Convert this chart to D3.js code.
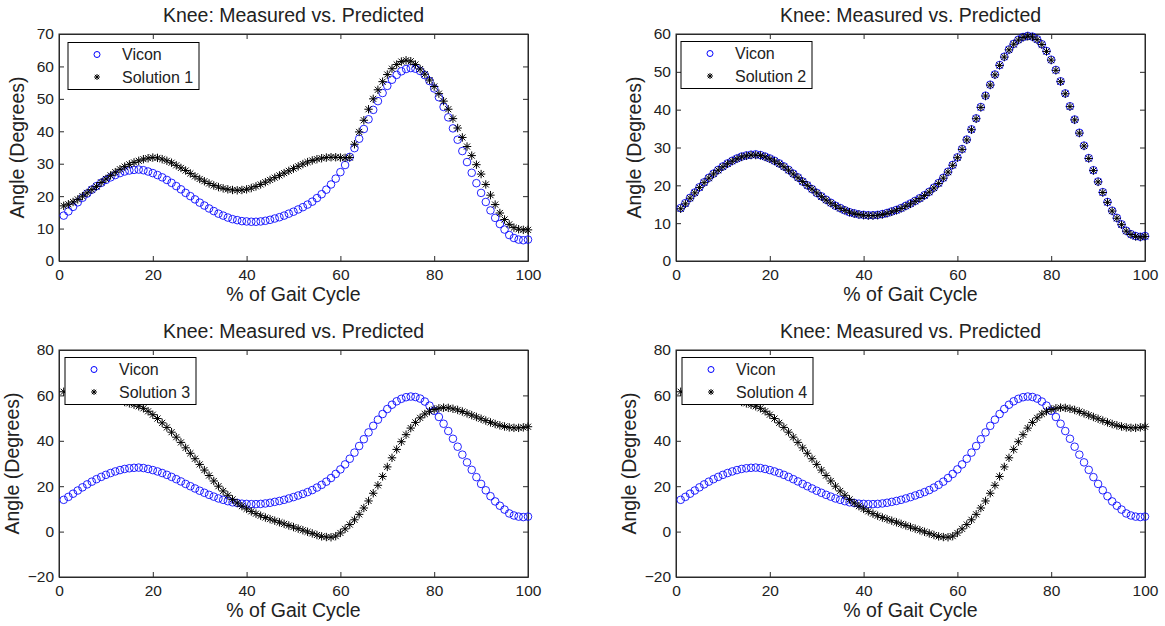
<!DOCTYPE html>
<html><head><meta charset="utf-8">
<script src="https://cdn.jsdelivr.net/npm/d3@7"></script>
<style>
body{margin:0;background:#fff}
svg text{font-family:"Liberation Sans",Arial,sans-serif;fill:#222}
</style>
</head><body>
<svg id="chart" width="1165" height="626"></svg>
<script>
// ---- data ----
const gaitPct = d3.range(1, 101);
const xTicks = [0, 20, 40, 60, 80, 100];
const titleText = "Knee: Measured vs. Predicted";
const xLabel = "% of Gait Cycle";
const yLabel = "Angle (Degrees)";
const viconLabel = "Vicon";

const vicon = [14.0,15.3,16.7,18.1,19.5,20.8,22.0,23.1,24.1,25.0,
25.8,26.5,27.1,27.6,27.9,28.1,28.2,28.0,27.6,27.1,
26.5,25.8,25.0,24.1,23.1,22.1,21.0,20.0,19.0,18.0,
17.1,16.2,15.4,14.6,14.0,13.4,12.9,12.6,12.3,12.2,
12.1,12.1,12.2,12.4,12.7,13.1,13.5,14.0,14.6,15.2,
15.9,16.6,17.4,18.3,19.4,20.6,22.0,23.6,25.4,27.4,
29.6,32.1,34.8,37.7,40.7,43.7,46.6,49.3,51.8,54.0,
55.9,57.4,58.5,59.2,59.5,59.3,58.6,57.3,55.5,53.2,
50.5,47.5,44.3,40.9,37.4,33.9,30.5,27.2,24.0,21.0,
18.2,15.6,13.3,11.4,9.7,8.0,7.1,6.6,6.4,6.6];

const solution1 = [17.0,17.5,18.2,19.0,20.0,21.0,22.0,23.0,24.2,25.3,
26.4,27.4,28.3,29.1,29.8,30.4,30.9,31.4,31.7,31.9,
31.8,31.4,30.9,30.3,29.5,28.7,27.9,27.0,26.1,25.3,
24.6,23.9,23.3,22.8,22.4,22.1,21.9,21.8,21.9,22.1,
22.5,23.0,23.6,24.3,25.0,25.7,26.4,27.1,27.8,28.5,
29.2,29.9,30.5,31.0,31.4,31.7,31.9,32.0,32.0,31.9,
31.8,31.9,36.0,39.8,43.4,46.8,50.0,52.8,55.3,57.5,
59.3,60.6,61.5,61.9,61.6,60.6,59.2,57.6,55.8,53.8,
51.6,49.3,46.8,43.9,41.0,38.1,35.3,32.5,29.7,26.8,
23.6,20.3,17.4,14.8,12.8,11.3,10.3,9.8,9.6,9.6];

const solution2 = [13.8,15.1,16.6,18.0,19.4,20.7,21.9,23.0,24.0,24.9,
25.7,26.4,27.0,27.5,27.8,28.0,28.0,27.9,27.5,27.0,
26.4,25.7,24.9,24.0,23.0,22.0,21.0,20.0,19.0,18.0,
17.0,16.1,15.3,14.6,13.9,13.4,12.9,12.5,12.3,12.1,
12.0,12.0,12.1,12.3,12.6,13.0,13.4,13.9,14.5,15.1,
15.8,16.5,17.3,18.2,19.3,20.5,21.9,23.5,25.3,27.3,
29.5,32.0,34.7,37.6,40.6,43.6,46.5,49.2,51.7,53.9,
55.8,57.3,58.4,59.1,59.4,59.2,58.5,57.2,55.4,53.1,
50.4,47.4,44.2,40.8,37.3,33.8,30.4,27.1,23.9,20.9,
18.1,15.5,13.2,11.3,9.6,7.9,7.0,6.5,6.3,6.5];

const solution3 = [61.6,61.5,61.4,61.2,61.0,60.7,60.4,60.0,59.6,59.2,
58.7,58.2,57.7,57.1,56.5,55.9,55.2,54.3,53.0,51.5,
49.8,47.9,45.9,43.8,41.6,39.3,36.9,34.5,32.1,29.6,
27.1,24.7,22.3,20.0,17.9,16.0,14.2,12.6,11.2,10.0,
8.9,7.9,7.0,6.2,5.5,4.8,4.1,3.4,2.7,2.0,
1.3,0.6,-0.1,-0.8,-1.5,-2.1,-2.4,-2.5,-2.0,-0.6,
1.2,3.1,5.2,7.6,10.4,13.5,16.9,20.4,24.3,28.5,
32.5,36.2,39.6,42.7,45.6,48.1,50.1,51.8,53.0,53.8,
54.3,54.6,54.5,54.1,53.6,52.9,52.1,51.3,50.5,49.7,
48.9,48.1,47.4,46.8,46.3,45.9,45.7,45.7,45.9,46.2];

const solution4 = [61.6,61.5,61.4,61.2,61.0,60.7,60.4,60.0,59.6,59.2,
58.7,58.2,57.7,57.1,56.5,55.9,55.2,54.3,53.0,51.5,
49.8,47.9,45.9,43.8,41.6,39.3,36.9,34.5,32.1,29.6,
27.1,24.7,22.3,20.0,17.9,16.0,14.2,12.6,11.2,10.0,
8.9,7.9,7.0,6.2,5.5,4.8,4.1,3.4,2.7,2.0,
1.3,0.6,-0.1,-0.8,-1.5,-2.1,-2.4,-2.5,-2.0,-0.6,
1.2,3.1,5.2,7.6,10.4,13.5,16.9,20.4,24.3,28.5,
32.5,36.2,39.6,42.7,45.6,48.1,50.1,51.8,53.0,53.8,
54.3,54.6,54.5,54.1,53.6,52.9,52.1,51.3,50.5,49.7,
48.9,48.1,47.4,46.8,46.3,45.9,45.7,45.7,45.9,46.2];

const solutionNames = ["Solution 1", "Solution 2", "Solution 3", "Solution 4"];
const yDomains = [[0, 70], [0, 60], [-20, 80], [-20, 80]];
const yTickSets = [[0,10,20,30,40,50,60,70],[0,10,20,30,40,50,60],[-20,0,20,40,60,80],[-20,0,20,40,60,80]];

// ---- layout ----
const layouts = [
  {left: 59, top: 34, legDx: 9, legDy: 8.5, yLabX: 24},
  {left: 676, top: 34, legDx: 5, legDy: 7.5, yLabX: 641},
  {left: 59, top: 350, legDx: 6, legDy: 7.5, yLabX: 19},
  {left: 676, top: 350, legDx: 6, legDy: 7.5, yLabX: 636}
];
const W = 469, H = 227;
const solutions = [solution1, solution2, solution3, solution4];

const svg = d3.select("#chart");
const axisColor = "#2a2a2a";
const font = '"Liberation Sans",Arial,sans-serif';

const starPath = (s) => {
  const d = s * 0.72;
  return `M${-s},0L${s},0M0,${-s}L0,${s}M${-d},${-d}L${d},${d}M${-d},${d}L${d},${-d}`;
};

layouts.forEach((L, i) => {
  const g = svg.append("g").attr("transform", `translate(${L.left},${L.top})`);
  const x = d3.scaleLinear().domain([0, 100]).range([0, W]);
  const y = d3.scaleLinear().domain(yDomains[i]).range([H, 0]);

  g.append("rect").attr("width", W).attr("height", H).attr("fill", "#fff");

  const ax = [
    g.append("g").attr("transform", `translate(0,${H})`).call(d3.axisBottom(x).tickValues(xTicks).tickSizeInner(-5).tickSizeOuter(0).tickPadding(8)),
    g.append("g").call(d3.axisTop(x).tickValues(xTicks).tickSizeInner(-5).tickSizeOuter(0).tickFormat("")),
    g.append("g").call(d3.axisLeft(y).tickValues(yTickSets[i]).tickSizeInner(-5).tickSizeOuter(0).tickPadding(5)),
    g.append("g").attr("transform", `translate(${W},0)`).call(d3.axisRight(y).tickValues(yTickSets[i]).tickSizeInner(-5).tickSizeOuter(0).tickFormat(""))
  ];
  ax.forEach(a => {
    a.select(".domain").attr("stroke", axisColor);
    a.selectAll(".tick line").attr("stroke", axisColor);
    a.selectAll(".tick text").attr("font-size", "15.5px").attr("fill", "#222").attr("font-family", font);
  });
  g.append("rect").attr("width", W).attr("height", H).attr("fill", "none").attr("stroke", axisColor);

  g.append("g").selectAll("circle").data(vicon).join("circle")
    .attr("cx", (d, j) => x(gaitPct[j])).attr("cy", d => y(d)).attr("r", 3.8)
    .attr("fill", "none").attr("stroke", "#0000ff").attr("stroke-width", 1).attr("stroke-opacity", 0.85);
  g.append("g").selectAll("path").data(solutions[i]).join("path")
    .attr("transform", (d, j) => `translate(${x(gaitPct[j])},${y(d)})`)
    .attr("d", starPath(4.2)).attr("stroke", "#000").attr("stroke-width", 1).attr("fill", "none");

  svg.append("text").attr("x", L.left + W / 2).attr("y", L.top - 12.5).attr("text-anchor", "middle")
    .attr("font-size", "19.5px").text(titleText);
  svg.append("text").attr("x", L.left + W / 2).attr("y", L.top + H + 39.5).attr("text-anchor", "middle")
    .attr("font-size", "19.5px").text(xLabel);
  svg.append("text").attr("transform", `translate(${L.yLabX},${L.top + H / 2}) rotate(-90)`)
    .attr("text-anchor", "middle").attr("font-size", "19.5px").text(yLabel);

  const lg = g.append("g").attr("transform", `translate(${L.legDx},${L.legDy})`);
  lg.append("rect").attr("width", 131).attr("height", 47).attr("fill", "#fff").attr("stroke", "#000").attr("stroke-width", 1);
  lg.append("circle").attr("cx", 29).attr("cy", 12).attr("r", 3).attr("fill", "none").attr("stroke", "#0000ff");
  lg.append("path").attr("transform", "translate(29,34.5)").attr("d", starPath(3)).attr("stroke", "#000").attr("fill", "none");
  lg.append("text").attr("x", 54).attr("y", 17.5).attr("font-size", "16px").text(viconLabel);
  lg.append("text").attr("x", 54).attr("y", 40).attr("font-size", "16px").text(solutionNames[i]);
});
</script>
</body></html>
